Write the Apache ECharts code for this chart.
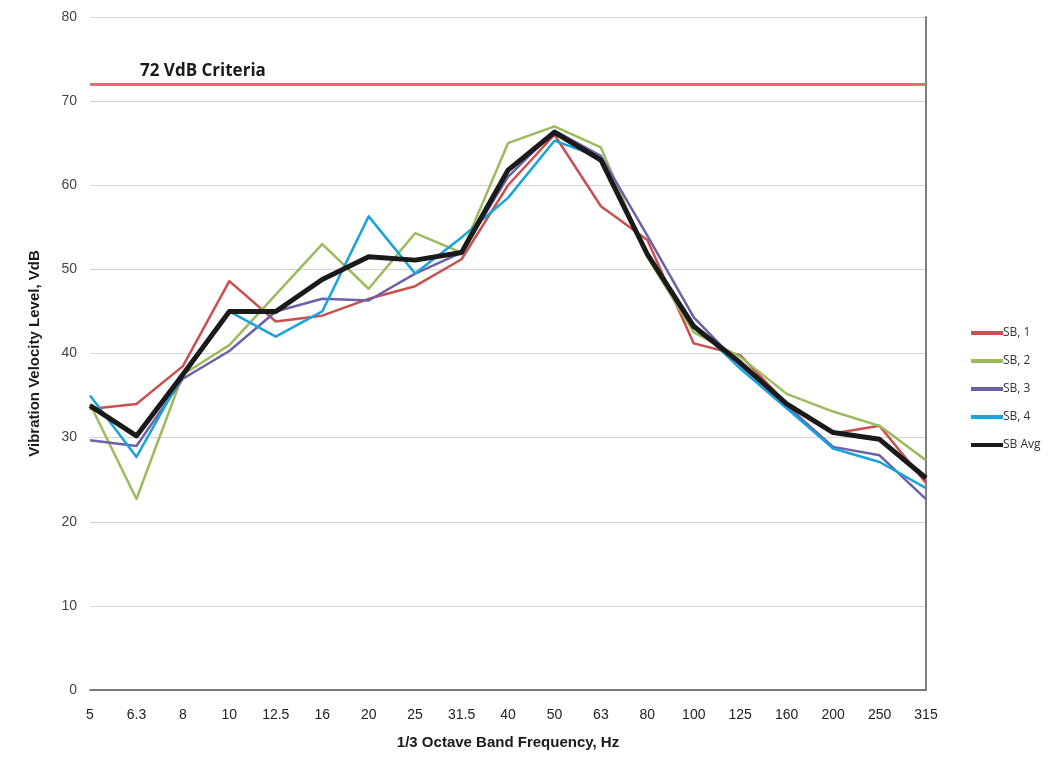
<!DOCTYPE html>
<html>
<head>
<meta charset="utf-8">
<script src="https://cdn.jsdelivr.net/npm/echarts@6/dist/echarts.min.js"></script>
<style>
  html, body { margin: 0; padding: 0; background: #fff; }
  #chart { width: 1055px; height: 761px; }
</style>
</head>
<body>
<div id="chart"></div>
<script>
// 1/3 octave band centre frequencies (Hz)
const bands = ['5', '6.3', '8', '10', '12.5', '16', '20', '25', '31.5', '40',
  '50', '63', '80', '100', '125', '160', '200', '250', '315'];

// Vibration velocity levels per measurement location (VdB)
const sb1 = [33.4, 34.0, 38.5, 48.6, 43.8, 44.5, 46.5, 48.0, 51.2, 60.0,
  66.0, 57.5, 53.5, 41.2, 39.8, 34.0, 30.5, 31.4, 24.6];
const sb2 = [34.0, 22.7, 37.5, 41.0, 47.0, 53.0, 47.7, 54.3, 52.0, 65.0,
  67.0, 64.5, 51.5, 42.5, 39.6, 35.2, 33.1, 31.4, 27.3];
const sb3 = [29.7, 29.0, 37.0, 40.3, 45.0, 46.5, 46.3, 49.5, 52.0, 61.0,
  66.5, 63.5, 54.0, 44.3, 38.6, 33.8, 28.9, 27.9, 22.7];
const sb4 = [35.0, 27.7, 37.5, 45.0, 42.0, 45.0, 56.3, 49.5, 53.8, 58.5,
  65.3, 63.3, 52.0, 43.5, 38.2, 33.5, 28.7, 27.1, 24.0];
const sbAvg = [33.8, 30.2, 37.5, 45.0, 45.0, 48.8, 51.5, 51.1, 52.0, 61.8,
  66.3, 63.0, 51.8, 43.2, 38.9, 34.0, 30.6, 29.8, 25.2];

// Impact criterion
const criteriaLevel = 72;
const criteriaLabel = '72 VdB Criteria';

// Y axis ticks
const yMin = 0, yMax = 80, yStep = 10;

const chart = echarts.init(document.getElementById('chart'), null, { renderer: 'canvas' });

function lineSeries(name, data, color, width, z) {
  return {
    name: name,
    type: 'line',
    data: data,
    symbol: 'none',
    smooth: false,
    z: z,
    lineStyle: { color: color, width: width, join: 'round' },
    itemStyle: { color: color }
  };
}

const series = [
  lineSeries('SB, 1', sb1, '#c9504f', 2.5, 3),
  lineSeries('SB, 2', sb2, '#9cbb5c', 2.5, 3),
  lineSeries('SB, 3', sb3, '#6c61a8', 2.5, 3),
  lineSeries('SB, 4', sb4, '#17a3db', 2.5, 3),
  lineSeries('SB Avg', sbAvg, '#1a1a1a', 5, 4)
];

// criterion line drawn across the whole plot
series[0].markLine = {
  silent: true,
  symbol: 'none',
  lineStyle: { color: '#e8716c', width: 3, type: 'solid' },
  label: {
    show: true,
    position: 'insideStartTop',
    distance: [50, 5],
    formatter: criteriaLabel,
    color: '#1a1a1a',
    fontFamily: 'Open Sans',
    fontWeight: 'bold',
    fontSize: 17
  },
  data: [{ yAxis: criteriaLevel }]
};

chart.setOption({
  animation: false,
  backgroundColor: '#ffffff',
  grid: { left: 90, right: 129, top: 17, bottom: 71, containLabel: false },
  legend: {
    orient: 'vertical',
    left: 966,
    top: 322,
    itemWidth: 32,
    itemHeight: 4,
    itemGap: 16,
    icon: 'rect',
    textStyle: { color: '#333', fontFamily: 'Open Sans', fontSize: 12, padding: [0, 0, 0, -5] },
    data: ['SB, 1', 'SB, 2', 'SB, 3', 'SB, 4', 'SB Avg']
  },
  xAxis: [{
    type: 'category',
    data: bands,
    boundaryGap: false,
    name: '1/3 Octave Band Frequency, Hz',
    nameLocation: 'middle',
    nameGap: 45,
    nameTextStyle: { color: '#1a1a1a', fontFamily: 'Liberation Sans', fontWeight: 'bold', fontSize: 15 },
    axisLine: { show: true, lineStyle: { color: '#d0d0d0', width: 1 } },
    axisTick: { show: false },
    axisLabel: { color: '#222', fontFamily: 'Liberation Sans', fontSize: 14, margin: 18 },
    splitLine: { show: false }
  }, {
    type: 'category',
    data: bands,
    boundaryGap: false,
    position: 'top',
    axisLine: { show: true, lineStyle: { color: '#555', width: 1.5 } },
    axisTick: { show: false },
    axisLabel: { show: false },
    splitLine: { show: false }
  }],
  yAxis: [{
    type: 'value',
    min: yMin,
    max: yMax,
    interval: yStep,
    name: 'Vibration Velocity Level, VdB',
    nameLocation: 'middle',
    nameGap: 48,
    nameTextStyle: { color: '#1a1a1a', fontFamily: 'Liberation Sans', fontWeight: 'bold', fontSize: 15 },
    axisLine: { show: false },
    axisTick: { show: false },
    axisLabel: { color: '#444', fontFamily: 'Liberation Sans', fontSize: 14, margin: 13 },
    splitLine: { show: true, lineStyle: { color: '#d4d4d4', width: 1 } }
  }, {
    type: 'value',
    min: yMin,
    max: yMax,
    interval: yStep,
    position: 'right',
    axisLine: { show: true, lineStyle: { color: '#555', width: 1.5 } },
    axisTick: { show: false },
    axisLabel: { show: false },
    splitLine: { show: false }
  }],
  series: series
});
</script>
</body>
</html>
